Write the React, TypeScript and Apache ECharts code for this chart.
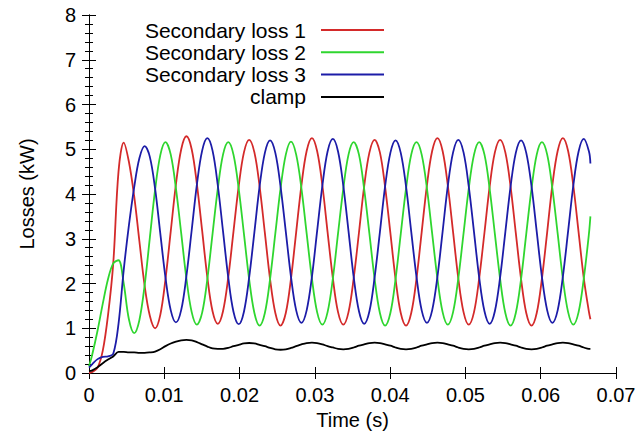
import React, { useEffect, useRef } from 'react';
import * as echarts from 'echarts';

const FONT = '"Liberation Sans", Arial, Helvetica, sans-serif';

const seriesNames = ['Secondary loss 1', 'Secondary loss 2', 'Secondary loss 3', 'clamp'];
const seriesColors = ['#d42a2a', '#2fd62f', '#1c1ca8', '#000000'];

const time = [
  0, 0.00044, 0.00114, 0.00183, 0.00253, 0.00322, 0.00392, 0.00461, 0.0053, 0.006,
  0.00669, 0.00739, 0.00808, 0.00878, 0.00947, 0.01016, 0.01086, 0.01155, 0.01225, 0.01294,
  0.01364, 0.01433, 0.01503, 0.01572, 0.01641, 0.01711, 0.0178, 0.0185, 0.01919, 0.01989,
  0.02058, 0.02127, 0.02197, 0.02266, 0.02336, 0.02405, 0.02475, 0.02544, 0.02614, 0.02683,
  0.02752, 0.02822, 0.02891, 0.02961, 0.0303, 0.031, 0.03169, 0.03239, 0.03308, 0.03378,
  0.03447, 0.03516, 0.03586, 0.03655, 0.03725, 0.03794, 0.03864, 0.03933, 0.04003, 0.04072,
  0.04141, 0.04211, 0.0428, 0.0435, 0.04419, 0.04489, 0.04558, 0.04628, 0.04697, 0.04766,
  0.04836, 0.04905, 0.04975, 0.05044, 0.05114, 0.05183, 0.05253, 0.05322, 0.05391, 0.05461,
  0.0553, 0.056, 0.05669, 0.05739, 0.05808, 0.05878, 0.05947, 0.06016, 0.06086, 0.06155,
  0.06225, 0.06294, 0.06364, 0.06433, 0.06503, 0.06572, 0.06641, 0.0666,
];

const loss1 = [
  0.0, 0.02, 0.12, 0.5, 1.3, 2.45, 4.5, 5.15, 4.72, 3.95,
  2.95, 1.95, 1.28, 1.0, 1.3, 2.1, 3.17, 4.22, 5.0, 5.29,
  5.0, 4.22, 3.18, 2.14, 1.38, 1.1, 1.38, 2.14, 3.16, 4.18,
  4.93, 5.21, 4.93, 4.17, 3.13, 2.1, 1.34, 1.06, 1.34, 2.11,
  3.15, 4.2, 4.96, 5.25, 4.96, 4.19, 3.15, 2.12, 1.36, 1.08,
  1.36, 2.12, 3.14, 4.17, 4.93, 5.21, 4.93, 4.16, 3.13, 2.1,
  1.34, 1.06, 1.34, 2.11, 3.15, 4.2, 4.96, 5.25, 4.96, 4.19,
  3.15, 2.12, 1.36, 1.08, 1.36, 2.12, 3.14, 4.17, 4.93, 5.21,
  4.93, 4.16, 3.13, 2.1, 1.34, 1.06, 1.34, 2.11, 3.15, 4.2,
  4.96, 5.25, 4.96, 4.19, 3.15, 2.12, 1.36, 1.2,
];

const loss2 = [
  0.15, 0.42, 0.95, 1.55, 2.1, 2.45, 2.52, 2.0, 1.2, 0.89,
  1.18, 1.96, 3.02, 4.09, 4.87, 5.16, 4.88, 4.12, 3.12, 2.11,
  1.36, 1.08, 1.35, 2.1, 3.11, 4.12, 4.88, 5.16, 4.88, 4.11,
  3.11, 2.1, 1.34, 1.06, 1.34, 2.1, 3.12, 4.12, 4.88, 5.17,
  4.88, 4.12, 3.12, 2.11, 1.36, 1.08, 1.36, 2.11, 3.12, 4.12,
  4.88, 5.16, 4.88, 4.11, 3.11, 2.1, 1.34, 1.06, 1.34, 2.1,
  3.11, 4.12, 4.88, 5.16, 4.88, 4.12, 3.12, 2.11, 1.36, 1.08,
  1.36, 2.11, 3.12, 4.12, 4.88, 5.16, 4.88, 4.11, 3.11, 2.1,
  1.34, 1.06, 1.34, 2.1, 3.11, 4.12, 4.88, 5.16, 4.88, 4.12,
  3.12, 2.11, 1.36, 1.08, 1.36, 2.11, 3.12, 3.5,
];

const loss3 = [
  0.12, 0.2, 0.31, 0.36, 0.37, 0.43, 1.1, 2.3, 3.3, 4.15,
  4.8, 5.07, 4.83, 4.12, 3.12, 2.13, 1.4, 1.13, 1.41, 2.17,
  3.19, 4.21, 4.97, 5.25, 4.97, 4.19, 3.17, 2.13, 1.37, 1.09,
  1.37, 2.13, 3.15, 4.17, 4.92, 5.2, 4.92, 4.17, 3.16, 2.15,
  1.4, 1.12, 1.4, 2.15, 3.17, 4.19, 4.95, 5.23, 4.95, 4.18,
  3.17, 2.14, 1.38, 1.1, 1.38, 2.14, 3.15, 4.17, 4.92, 5.2,
  4.92, 4.17, 3.16, 2.15, 1.4, 1.12, 1.4, 2.15, 3.16, 4.18,
  4.93, 5.21, 4.93, 4.17, 3.15, 2.13, 1.38, 1.1, 1.38, 2.14,
  3.15, 4.17, 4.92, 5.2, 4.92, 4.17, 3.16, 2.15, 1.4, 1.12,
  1.4, 2.15, 3.17, 4.19, 4.95, 5.23, 4.95, 4.68,
];

const clamp = [
  0.04, 0.06, 0.13, 0.22, 0.3, 0.37, 0.47, 0.47, 0.46, 0.46,
  0.45, 0.45, 0.46, 0.48, 0.53, 0.6, 0.66, 0.7, 0.73, 0.74,
  0.73, 0.69, 0.64, 0.59, 0.55, 0.54, 0.54, 0.56, 0.6, 0.63,
  0.66, 0.67, 0.66, 0.63, 0.6, 0.56, 0.53, 0.52, 0.53, 0.56,
  0.6, 0.64, 0.67, 0.68, 0.67, 0.64, 0.6, 0.57, 0.54, 0.53,
  0.54, 0.57, 0.61, 0.64, 0.67, 0.68, 0.67, 0.64, 0.61, 0.57,
  0.54, 0.53, 0.54, 0.57, 0.61, 0.64, 0.67, 0.68, 0.67, 0.64,
  0.61, 0.57, 0.54, 0.53, 0.54, 0.57, 0.61, 0.64, 0.67, 0.68,
  0.67, 0.64, 0.61, 0.57, 0.54, 0.53, 0.54, 0.57, 0.61, 0.64,
  0.67, 0.68, 0.67, 0.64, 0.61, 0.57, 0.54, 0.54,
];

const seriesValues = [loss1, loss2, loss3, clamp];

export default function App() {
  const ref = useRef<HTMLDivElement>(null);
  useEffect(() => {
    if (!ref.current) return;
    const chart = echarts.init(ref.current, null, { renderer: 'svg' });
    const axisLine = { show: true, lineStyle: { color: '#000', width: 1 } };
    chart.setOption({
      animation: false,
      backgroundColor: '#fff',
      textStyle: { fontFamily: FONT },
      grid: { left: 89, right: 25, top: 15, bottom: 68, containLabel: false },
      legend: {
        orient: 'vertical',
        right: 252,
        top: 14.5,
        align: 'right',
        icon: 'rect',
        itemWidth: 63,
        itemHeight: 2,
        itemGap: 1.3,
        selectedMode: false,
        data: seriesNames,
        textStyle: {
          fontSize: 21,
          lineHeight: 20,
          color: '#000',
          fontFamily: FONT,
          padding: [0, 10, 0, 0],
        },
      },
      xAxis: [
        {
          type: 'value',
          position: 'bottom',
          min: 0,
          max: 0.07,
          interval: 0.01,
          name: 'Time (s)',
          nameLocation: 'middle',
          nameGap: 36,
          nameTextStyle: { fontSize: 20, color: '#000', fontFamily: FONT },
          axisLine,
          axisTick: { show: true, inside: true, length: 6, lineStyle: { color: '#000' } },
          axisLabel: {
            fontSize: 20,
            color: '#000',
            fontFamily: FONT,
            margin: 12,
            formatter: (v: number) => (v === 0 ? '0' : v.toFixed(2)),
          },
          splitLine: { show: false },
        },
        {
          type: 'value',
          position: 'top',
          min: 0,
          max: 0.07,
          interval: 0.01,
          axisLine,
          axisTick: { show: true, inside: true, length: 6, lineStyle: { color: '#000' } },
          axisLabel: { show: false },
          splitLine: { show: false },
        },
      ],
      yAxis: [
        {
          type: 'value',
          position: 'left',
          min: 0,
          max: 8,
          interval: 1,
          name: 'Losses (kW)',
          nameLocation: 'middle',
          nameGap: 52,
          nameTextStyle: { fontSize: 20, color: '#000', fontFamily: FONT },
          axisLine,
          axisTick: { show: true, inside: true, length: 7, lineStyle: { color: '#000' } },
          minorTick: { show: true, splitNumber: 5, length: 4, lineStyle: { color: '#000' } },
          axisLabel: { fontSize: 20, color: '#000', fontFamily: FONT, margin: 13 },
          splitLine: { show: false },
        },
        {
          type: 'value',
          position: 'right',
          min: 0,
          max: 8,
          interval: 1,
          axisLine,
          axisTick: { show: true, inside: true, length: 7, lineStyle: { color: '#000' } },
          minorTick: { show: true, splitNumber: 5, length: 4, lineStyle: { color: '#000' } },
          axisLabel: { show: false },
          splitLine: { show: false },
        },
      ],
      series: seriesNames.map((name, k) => ({
        name,
        type: 'line',
        xAxisIndex: 0,
        yAxisIndex: 0,
        data: time.map((t, i) => [t, seriesValues[k][i]]),
        symbol: 'none',
        showSymbol: false,
        smooth: 0.35,
        lineStyle: { color: seriesColors[k], width: 1.8 },
        itemStyle: { color: seriesColors[k] },
      })),
    });
    return () => chart.dispose();
  }, []);
  return (
    <div
      ref={ref}
      style={{ position: 'fixed', left: 0, top: 0, width: 641, height: 441, background: '#fff' }}
    />
  );
}
